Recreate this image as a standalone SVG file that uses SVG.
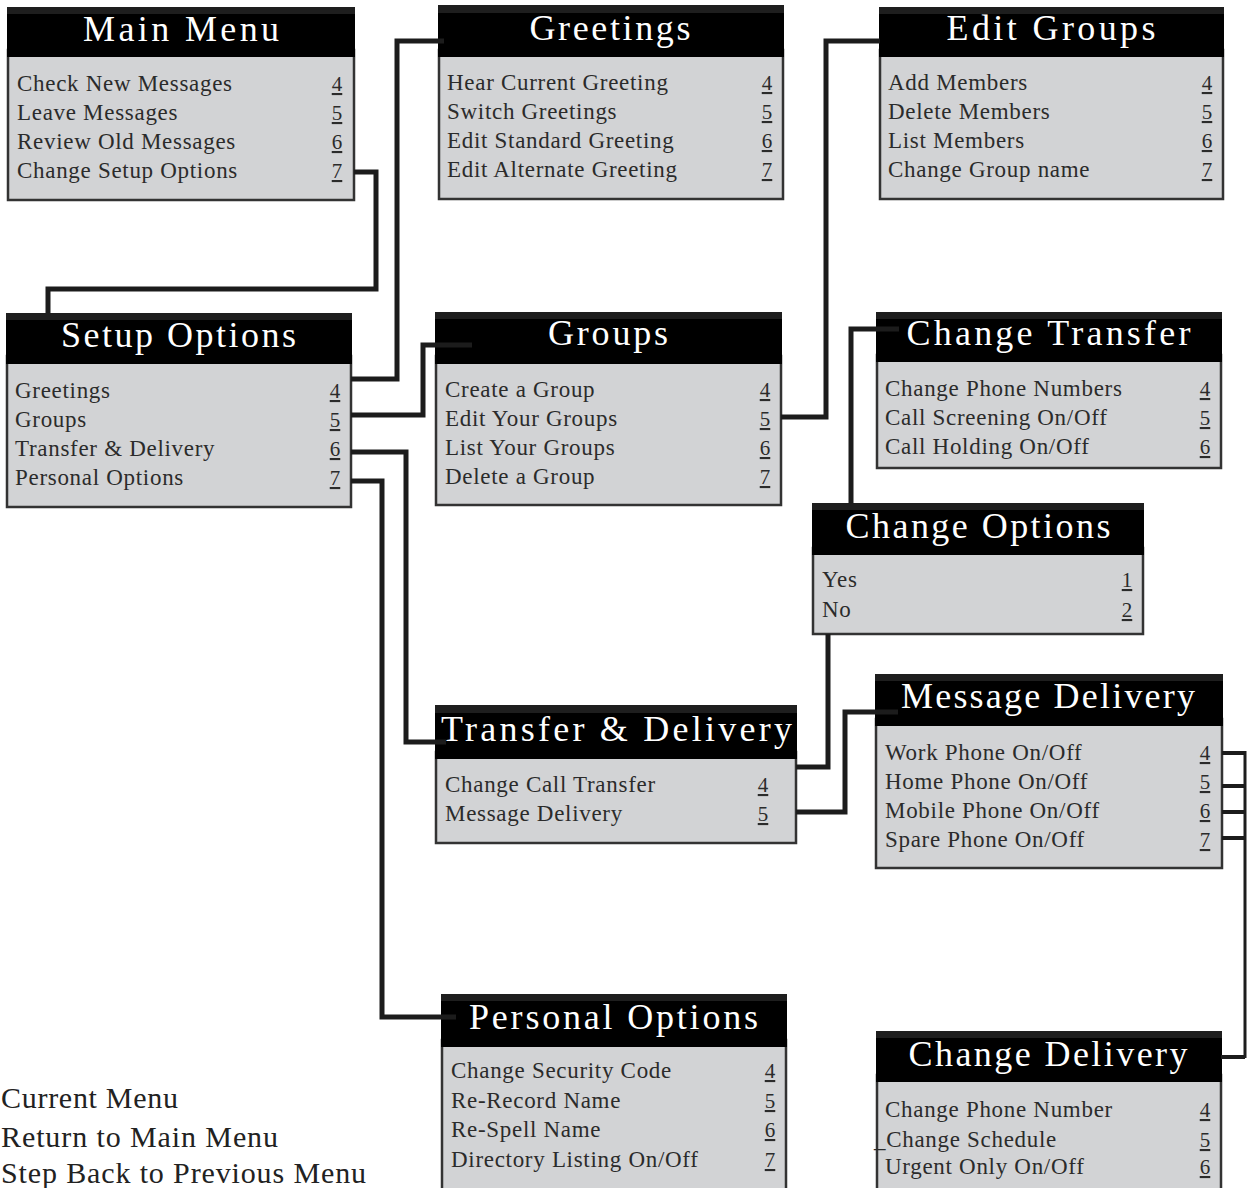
<svg xmlns="http://www.w3.org/2000/svg" width="1248" height="1188" viewBox="0 0 1248 1188">
<style>
.body{fill:#d2d3d5;stroke:#333;stroke-width:2.5}
.hdr{fill:#000}
.strip{fill:#1e1e1e}
.title{font-family:"Liberation Serif","Times New Roman","DejaVu Serif",serif;font-size:36px;fill:#fff;text-anchor:middle}
.item{font-family:"Liberation Serif","Times New Roman","DejaVu Serif",serif;font-size:23px;fill:#2b2b2b;letter-spacing:0.7px}
.num{font-family:"Liberation Serif","Times New Roman","DejaVu Serif",serif;font-size:21px;fill:#2b2b2b;text-anchor:middle;text-decoration:underline}
.legend{font-family:"Liberation Serif","Times New Roman","DejaVu Serif",serif;font-size:30px;fill:#222}
.conn{fill:none;stroke:#1c1c1c;stroke-width:5;stroke-linejoin:miter;stroke-linecap:butt}
</style>
<rect width="1248" height="1188" fill="#fff"/>
<g id="nodes">
<g id="main-menu">
<rect class="body" x="8" y="50" width="346" height="150"/>
<rect class="hdr" x="7" y="7" width="348" height="50"/>
<rect class="strip" x="7" y="7" width="348" height="7"/>
<text class="title" x="181" y="41" textLength="196" lengthAdjust="spacing">Main Menu</text>
<text class="item" x="17" y="91">Check New Messages</text>
<text class="item" x="17" y="120">Leave Messages</text>
<text class="item" x="17" y="149">Review Old Messages</text>
<text class="item" x="17" y="178">Change Setup Options</text>
<text class="num" x="337" y="91">4</text>
<text class="num" x="337" y="120">5</text>
<text class="num" x="337" y="149">6</text>
<text class="num" x="337" y="178">7</text>
</g>
<g id="greetings">
<rect class="body" x="439" y="50" width="344" height="149"/>
<rect class="hdr" x="438" y="5" width="346" height="52"/>
<rect class="strip" x="438" y="5" width="346" height="8"/>
<text class="title" x="610" y="40" textLength="161" lengthAdjust="spacing">Greetings</text>
<text class="item" x="447" y="90">Hear Current Greeting</text>
<text class="item" x="447" y="119">Switch Greetings</text>
<text class="item" x="447" y="148">Edit Standard Greeting</text>
<text class="item" x="447" y="177">Edit Alternate Greeting</text>
<text class="num" x="767" y="90">4</text>
<text class="num" x="767" y="119">5</text>
<text class="num" x="767" y="148">6</text>
<text class="num" x="767" y="177">7</text>
</g>
<g id="edit-groups">
<rect class="body" x="880" y="50" width="343" height="149"/>
<rect class="hdr" x="879" y="7" width="345" height="50"/>
<rect class="strip" x="879" y="7" width="345" height="7"/>
<text class="title" x="1051" y="40" textLength="209" lengthAdjust="spacing">Edit Groups</text>
<text class="item" x="888" y="90">Add Members</text>
<text class="item" x="888" y="119">Delete Members</text>
<text class="item" x="888" y="148">List Members</text>
<text class="item" x="888" y="177">Change Group name</text>
<text class="num" x="1207" y="90">4</text>
<text class="num" x="1207" y="119">5</text>
<text class="num" x="1207" y="148">6</text>
<text class="num" x="1207" y="177">7</text>
</g>
<g id="setup-options">
<rect class="body" x="7" y="356" width="344" height="151"/>
<rect class="hdr" x="6" y="313" width="346" height="51"/>
<rect class="strip" x="6" y="313" width="346" height="7"/>
<text class="title" x="178.5" y="347" textLength="235" lengthAdjust="spacing">Setup Options</text>
<text class="item" x="15" y="398">Greetings</text>
<text class="item" x="15" y="427">Groups</text>
<text class="item" x="15" y="456">Transfer &amp; Delivery</text>
<text class="item" x="15" y="485">Personal Options</text>
<text class="num" x="335" y="398">4</text>
<text class="num" x="335" y="427">5</text>
<text class="num" x="335" y="456">6</text>
<text class="num" x="335" y="485">7</text>
</g>
<g id="groups">
<rect class="body" x="436" y="356" width="345" height="149"/>
<rect class="hdr" x="435" y="312" width="347" height="52"/>
<rect class="strip" x="435" y="312" width="347" height="7"/>
<text class="title" x="608" y="345" textLength="120" lengthAdjust="spacing">Groups</text>
<text class="item" x="445" y="397">Create a Group</text>
<text class="item" x="445" y="426">Edit Your Groups</text>
<text class="item" x="445" y="455">List Your Groups</text>
<text class="item" x="445" y="484">Delete a Group</text>
<text class="num" x="765" y="397">4</text>
<text class="num" x="765" y="426">5</text>
<text class="num" x="765" y="455">6</text>
<text class="num" x="765" y="484">7</text>
</g>
<g id="change-transfer">
<rect class="body" x="877" y="355" width="344" height="113"/>
<rect class="hdr" x="876" y="312" width="346" height="50"/>
<rect class="strip" x="876" y="312" width="346" height="7"/>
<text class="title" x="1048.5" y="345" textLength="284" lengthAdjust="spacing">Change Transfer</text>
<text class="item" x="885" y="396">Change Phone Numbers</text>
<text class="item" x="885" y="425">Call Screening On/Off</text>
<text class="item" x="885" y="454">Call Holding On/Off</text>
<text class="num" x="1205" y="396">4</text>
<text class="num" x="1205" y="425">5</text>
<text class="num" x="1205" y="454">6</text>
</g>
<g id="change-options">
<rect class="body" x="813" y="548" width="330" height="86"/>
<rect class="hdr" x="812" y="503" width="332" height="52"/>
<rect class="strip" x="812" y="503" width="332" height="7"/>
<text class="title" x="978" y="538" textLength="265" lengthAdjust="spacing">Change Options</text>
<text class="item" x="822" y="587">Yes</text>
<text class="item" x="822" y="617">No</text>
<text class="num" x="1127" y="587">1</text>
<text class="num" x="1127" y="617">2</text>
</g>
<g id="transfer-delivery">
<rect class="body" x="436" y="752" width="360" height="91"/>
<rect class="hdr" x="435" y="705" width="362" height="54"/>
<rect class="strip" x="435" y="705" width="362" height="8"/>
<text class="title" x="616.5" y="741" textLength="351" lengthAdjust="spacing">Transfer &amp; Delivery</text>
<text class="item" x="445" y="792">Change Call Transfer</text>
<text class="item" x="445" y="821">Message Delivery</text>
<text class="num" x="763" y="792">4</text>
<text class="num" x="763" y="821">5</text>
</g>
<g id="message-delivery">
<rect class="body" x="876" y="719" width="346" height="149"/>
<rect class="hdr" x="875" y="674" width="348" height="52"/>
<rect class="strip" x="875" y="674" width="348" height="7"/>
<text class="title" x="1048" y="708" textLength="294" lengthAdjust="spacing">Message Delivery</text>
<text class="item" x="885" y="760">Work Phone On/Off</text>
<text class="item" x="885" y="789">Home Phone On/Off</text>
<text class="item" x="885" y="818">Mobile Phone On/Off</text>
<text class="item" x="885" y="847">Spare Phone On/Off</text>
<text class="num" x="1205" y="760">4</text>
<text class="num" x="1205" y="789">5</text>
<text class="num" x="1205" y="818">6</text>
<text class="num" x="1205" y="847">7</text>
</g>
<g id="personal-options">
<rect class="body" x="442" y="1040" width="344" height="155"/>
<rect class="hdr" x="441" y="994" width="346" height="53"/>
<rect class="strip" x="441" y="994" width="346" height="7"/>
<text class="title" x="613.5" y="1029" textLength="289" lengthAdjust="spacing">Personal Options</text>
<text class="item" x="451" y="1078">Change Security Code</text>
<text class="item" x="451" y="1108">Re-Record Name</text>
<text class="item" x="451" y="1137">Re-Spell Name</text>
<text class="item" x="451" y="1167">Directory Listing On/Off</text>
<text class="num" x="770" y="1078">4</text>
<text class="num" x="770" y="1108">5</text>
<text class="num" x="770" y="1137">6</text>
<text class="num" x="770" y="1167">7</text>
</g>
<g id="change-delivery">
<rect class="body" x="877" y="1075" width="344" height="120"/>
<rect class="hdr" x="876" y="1031" width="346" height="51"/>
<rect class="strip" x="876" y="1031" width="346" height="7"/>
<text class="title" x="1048" y="1066" textLength="279" lengthAdjust="spacing">Change Delivery</text>
<text class="item" x="885" y="1117">Change Phone Number</text>
<text class="item" x="874" y="1147">_Change Schedule</text>
<text class="item" x="885" y="1174">Urgent Only On/Off</text>
<text class="num" x="1205" y="1117">4</text>
<text class="num" x="1205" y="1147">5</text>
<text class="num" x="1205" y="1174">6</text>
</g>
</g>
<g id="connectors">
<path class="conn" d="M354,172 H376 V289 H48 V313"/>
<path class="conn" d="M351,379 H397 V41 H444"/>
<path class="conn" d="M351,415 H423 V345 H472"/>
<path class="conn" d="M351,452 H406 V742 H446"/>
<path class="conn" d="M351,481 H382 V1017 H456"/>
<path class="conn" d="M781,417 H826 V41 H880"/>
<path class="conn" d="M851,504 V329 H899"/>
<path class="conn" d="M796,767 H828 V634"/>
<path class="conn" d="M796,812 H845 V712 H898"/>
<path class="conn" style="stroke-width:4" d="M1222,753 H1245 M1222,786 H1245 M1222,812 H1245 M1222,838 H1245 M1245,1057 H1221"/>
<path class="conn" style="stroke-width:3" d="M1245,751 V1058"/>
</g>
<g id="legend">
<text class="legend" x="1" y="1108" textLength="177" lengthAdjust="spacing">Current Menu</text>
<text class="legend" x="1" y="1147" textLength="277" lengthAdjust="spacing">Return to Main Menu</text>
<text class="legend" x="1" y="1183" textLength="365" lengthAdjust="spacing">Step Back to Previous Menu</text>
</g>
</svg>
